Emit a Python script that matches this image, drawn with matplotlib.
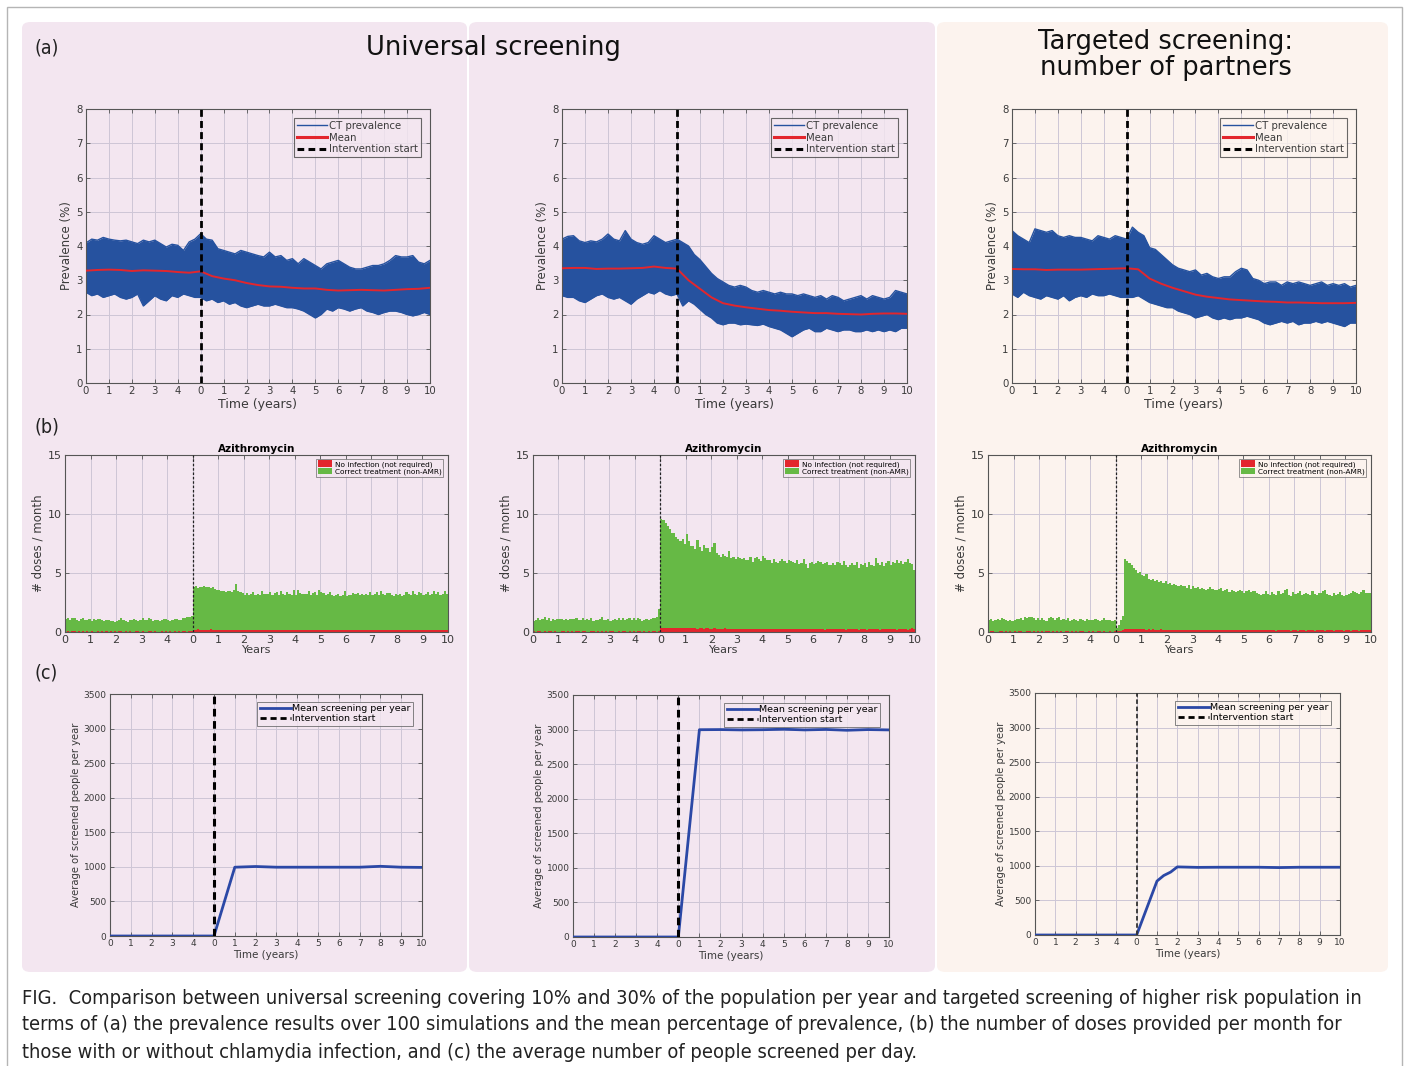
import numpy as np
import matplotlib
matplotlib.use('Agg')
import matplotlib.pyplot as plt
import matplotlib.font_manager as fm
from matplotlib.patches import FancyBboxPatch, Rectangle, Patch
from matplotlib.lines import Line2D

# ---------------- DATA ----------------
# shared x-axis: 5 pre-intervention years (-5..0) + 10 intervention years (0..10)
x_tick_pos = list(range(-5, 11))
x_tick_lab = ['0', '1', '2', '3', '4'] + [str(i) for i in range(0, 11)]

# (a) prevalence band (envelope of 100 simulations), every quarter year
t_env = np.arange(-5, 10.001, 0.25)
t_mean = np.arange(-5, 10.001, 0.5)

u10_upper = [4.09, 4.20, 4.17, 4.25, 4.20, 4.17, 4.15, 4.17, 4.12, 4.07, 4.17, 4.12,
             4.17, 4.07, 3.97, 4.05, 4.02, 3.87, 4.12, 4.20, 4.36, 4.20, 4.17, 3.92,
             3.87, 3.82, 3.77, 3.87, 3.82, 3.77, 3.72, 3.68, 3.82, 3.68, 3.72, 3.58,
             3.63, 3.48, 3.63, 3.53, 3.43, 3.33, 3.48, 3.53, 3.58, 3.48, 3.38, 3.33,
             3.33, 3.38, 3.43, 3.43, 3.48, 3.58, 3.72, 3.68, 3.68, 3.72, 3.53, 3.48, 3.58]
u10_lower = [2.65, 2.55, 2.60, 2.50, 2.55, 2.60, 2.50, 2.45, 2.50, 2.60, 2.25, 2.40,
             2.55, 2.45, 2.40, 2.55, 2.50, 2.60, 2.55, 2.50, 2.50, 2.40, 2.45, 2.35,
             2.40, 2.30, 2.35, 2.25, 2.20, 2.25, 2.30, 2.25, 2.25, 2.30, 2.25, 2.20,
             2.20, 2.16, 2.10, 2.00, 1.90, 2.00, 2.16, 2.10, 2.20, 2.16, 2.10, 2.16,
             2.20, 2.10, 2.06, 2.00, 2.06, 2.10, 2.10, 2.06, 2.00, 1.96, 2.00, 2.06, 2.00]
u10_mean = [3.28, 3.30, 3.31, 3.30, 3.27, 3.29, 3.28, 3.27, 3.24, 3.22, 3.26, 3.12,
            3.05, 3.00, 2.92, 2.86, 2.82, 2.81, 2.78, 2.76, 2.76, 2.72, 2.70, 2.71,
            2.72, 2.71, 2.70, 2.72, 2.74, 2.75, 2.78]

u30_upper = [4.20, 4.28, 4.30, 4.15, 4.10, 4.15, 4.12, 4.20, 4.35, 4.20, 4.15, 4.45,
             4.20, 4.10, 4.05, 4.10, 4.30, 4.20, 4.10, 4.15, 4.20, 4.10, 4.00, 3.75,
             3.60, 3.40, 3.20, 3.05, 2.95, 2.85, 2.80, 2.85, 2.80, 2.70, 2.65, 2.70,
             2.65, 2.60, 2.65, 2.60, 2.60, 2.55, 2.60, 2.55, 2.50, 2.55, 2.45, 2.55,
             2.50, 2.40, 2.45, 2.50, 2.55, 2.45, 2.55, 2.50, 2.45, 2.50, 2.70, 2.65, 2.60]
u30_lower = [2.55, 2.50, 2.50, 2.40, 2.35, 2.45, 2.55, 2.60, 2.50, 2.45, 2.50, 2.40,
             2.30, 2.45, 2.55, 2.65, 2.60, 2.70, 2.60, 2.55, 2.60, 2.25, 2.40, 2.30,
             2.15, 2.00, 1.90, 1.75, 1.70, 1.75, 1.75, 1.70, 1.72, 1.70, 1.68, 1.72,
             1.65, 1.60, 1.55, 1.45, 1.35, 1.45, 1.55, 1.60, 1.50, 1.50, 1.60, 1.55,
             1.50, 1.55, 1.55, 1.50, 1.50, 1.55, 1.50, 1.55, 1.50, 1.55, 1.50, 1.60, 1.60]
u30_mean = [3.35, 3.36, 3.36, 3.33, 3.34, 3.34, 3.35, 3.36, 3.40, 3.36, 3.34, 3.00,
            2.75, 2.50, 2.33, 2.26, 2.21, 2.17, 2.13, 2.11, 2.08, 2.06, 2.04, 2.04,
            2.02, 2.01, 2.00, 2.02, 2.03, 2.03, 2.02]

tg_upper = [4.45, 4.30, 4.20, 4.10, 4.50, 4.45, 4.40, 4.45, 4.30, 4.25, 4.30, 4.25,
            4.25, 4.20, 4.15, 4.30, 4.25, 4.20, 4.30, 4.25, 4.20, 4.55, 4.40, 4.30,
            3.95, 3.90, 3.75, 3.60, 3.45, 3.35, 3.30, 3.25, 3.30, 3.15, 3.20, 3.10,
            3.05, 3.10, 3.10, 3.25, 3.35, 3.30, 3.05, 3.00, 2.90, 2.95, 2.95, 2.85,
            2.95, 2.90, 2.95, 2.90, 2.85, 2.90, 2.95, 2.85, 2.90, 2.85, 2.90, 2.80, 2.85]
tg_lower = [2.60, 2.50, 2.65, 2.55, 2.50, 2.45, 2.55, 2.50, 2.45, 2.55, 2.40, 2.50,
            2.55, 2.50, 2.60, 2.55, 2.55, 2.60, 2.55, 2.50, 2.50, 2.50, 2.55, 2.45,
            2.35, 2.30, 2.25, 2.20, 2.20, 2.10, 2.05, 2.00, 1.90, 1.95, 2.00, 1.90,
            1.85, 1.90, 1.85, 1.90, 1.90, 1.95, 1.90, 1.85, 1.75, 1.70, 1.75, 1.80,
            1.75, 1.80, 1.70, 1.75, 1.75, 1.80, 1.75, 1.80, 1.75, 1.70, 1.65, 1.75, 1.75]
tg_mean = [3.33, 3.32, 3.32, 3.30, 3.31, 3.31, 3.31, 3.32, 3.33, 3.34, 3.35, 3.32,
           3.05, 2.90, 2.78, 2.68, 2.58, 2.52, 2.48, 2.44, 2.42, 2.40, 2.38, 2.37,
           2.35, 2.35, 2.34, 2.33, 2.33, 2.33, 2.34]

# (b) azithromycin doses per month (one row per year, 15 years)
u10_correct = [
    [1.1, 1.1, 1.0, 1.1, 1.1, 1.0, 0.9, 1.1, 1.1, 1.0, 1.0, 1.1],
    [0.9, 1.1, 1.0, 1.0, 1.1, 1.0, 0.9, 1.0, 1.0, 0.9, 0.9, 0.8],
    [0.9, 1.0, 1.1, 1.0, 0.9, 0.8, 1.0, 1.0, 1.1, 1.0, 0.9, 1.0],
    [1.1, 1.0, 1.0, 1.1, 1.0, 0.9, 1.0, 1.0, 0.9, 1.0, 1.1, 1.0],
    [1.0, 0.9, 1.0, 1.0, 1.1, 1.0, 1.0, 1.1, 1.1, 1.2, 1.2, 1.3],
    [3.6, 3.7, 3.5, 3.6, 3.6, 3.7, 3.6, 3.6, 3.5, 3.6, 3.5, 3.4],
    [3.4, 3.3, 3.3, 3.2, 3.3, 3.3, 3.2, 3.4, 3.9, 3.3, 3.2, 3.1],
    [3.0, 3.1, 3.0, 3.1, 3.2, 3.0, 3.1, 3.0, 3.3, 3.1, 3.0, 3.1],
    [3.2, 3.0, 3.1, 3.2, 3.0, 3.3, 3.1, 3.0, 3.2, 3.1, 3.0, 3.4],
    [3.0, 3.4, 3.2, 3.1, 3.0, 3.1, 3.3, 3.0, 3.1, 3.2, 3.0, 3.4],
    [3.2, 3.1, 3.0, 3.1, 3.2, 3.0, 2.9, 3.0, 3.1, 2.9, 3.0, 3.3],
    [2.9, 3.0, 3.0, 3.1, 3.1, 3.2, 3.0, 3.1, 3.0, 3.1, 3.0, 3.2],
    [3.0, 3.1, 3.2, 3.0, 3.3, 3.1, 3.0, 3.2, 3.1, 3.0, 2.9, 3.1],
    [3.0, 3.1, 2.9, 3.0, 3.2, 3.1, 3.0, 3.3, 3.1, 3.0, 3.2, 3.1],
    [3.0, 3.1, 3.2, 3.0, 3.1, 3.3, 3.1, 3.2, 3.0, 3.1, 3.3, 3.1]]
u10_noinf = [
    [0.04, 0.05, 0.03, 0.06, 0.05, 0.04, 0.05, 0.03, 0.06, 0.04, 0.05, 0.04],
    [0.05, 0.03, 0.04, 0.06, 0.04, 0.05, 0.03, 0.05, 0.04, 0.06, 0.04, 0.05],
    [0.04, 0.05, 0.06, 0.03, 0.05, 0.04, 0.05, 0.04, 0.03, 0.05, 0.06, 0.04],
    [0.05, 0.04, 0.03, 0.05, 0.06, 0.04, 0.05, 0.03, 0.04, 0.05, 0.04, 0.06],
    [0.04, 0.05, 0.04, 0.06, 0.03, 0.05, 0.04, 0.05, 0.06, 0.04, 0.05, 0.06],
    [0.20, 0.18, 0.22, 0.20, 0.19, 0.21, 0.18, 0.20, 0.22, 0.19, 0.18, 0.20],
    [0.17, 0.19, 0.16, 0.18, 0.20, 0.17, 0.15, 0.18, 0.19, 0.16, 0.17, 0.18],
    [0.15, 0.17, 0.16, 0.14, 0.18, 0.16, 0.15, 0.17, 0.14, 0.16, 0.18, 0.15],
    [0.16, 0.14, 0.17, 0.15, 0.16, 0.18, 0.14, 0.15, 0.17, 0.16, 0.15, 0.14],
    [0.15, 0.17, 0.14, 0.16, 0.18, 0.15, 0.16, 0.14, 0.17, 0.15, 0.16, 0.14],
    [0.16, 0.18, 0.15, 0.14, 0.16, 0.17, 0.15, 0.16, 0.14, 0.15, 0.17, 0.16],
    [0.15, 0.14, 0.16, 0.17, 0.15, 0.14, 0.16, 0.15, 0.17, 0.14, 0.15, 0.16],
    [0.14, 0.16, 0.15, 0.17, 0.14, 0.15, 0.16, 0.14, 0.18, 0.15, 0.14, 0.16],
    [0.15, 0.16, 0.14, 0.15, 0.17, 0.14, 0.16, 0.15, 0.14, 0.16, 0.15, 0.17],
    [0.14, 0.15, 0.17, 0.14, 0.16, 0.15, 0.14, 0.16, 0.15, 0.14, 0.17, 0.15]]

u30_correct = [
    [0.9, 1.0, 1.1, 1.0, 1.1, 1.2, 1.0, 1.1, 0.9, 1.1, 1.0, 1.1],
    [1.1, 1.0, 1.0, 1.1, 1.0, 1.1, 1.0, 1.1, 1.1, 1.0, 1.0, 1.1],
    [1.0, 1.1, 1.0, 1.1, 0.9, 1.0, 1.0, 1.1, 1.2, 1.0, 1.0, 1.1],
    [0.9, 1.0, 1.1, 1.0, 1.1, 1.0, 1.1, 1.0, 1.1, 1.1, 1.0, 1.1],
    [1.0, 1.1, 1.0, 0.9, 1.0, 1.1, 1.0, 1.1, 1.1, 1.1, 1.2, 1.9],
    [9.2, 9.1, 8.9, 8.6, 8.4, 8.0, 8.1, 7.7, 7.5, 7.4, 7.6, 7.1],
    [8.0, 7.4, 7.0, 6.9, 6.7, 7.5, 6.9, 6.6, 7.1, 6.8, 6.8, 6.5],
    [6.9, 7.2, 6.4, 6.2, 6.1, 6.3, 6.1, 6.1, 6.6, 6.0, 6.1, 5.9],
    [6.1, 6.0, 5.9, 6.0, 5.9, 5.8, 6.1, 5.7, 6.0, 6.1, 5.9, 5.8],
    [6.2, 6.0, 5.9, 5.8, 5.6, 5.9, 5.7, 5.6, 5.8, 5.9, 5.8, 5.6],
    [5.9, 5.8, 5.7, 5.6, 5.8, 5.5, 5.6, 5.9, 5.5, 5.2, 5.6, 5.7],
    [5.5, 5.6, 5.8, 5.7, 5.5, 5.6, 5.7, 5.5, 5.4, 5.6, 5.5, 5.7],
    [5.6, 5.4, 5.8, 5.5, 5.3, 5.5, 5.6, 5.4, 5.7, 5.2, 5.5, 5.4],
    [5.6, 5.3, 5.7, 5.5, 5.4, 6.0, 5.6, 5.5, 5.7, 5.4, 5.6, 5.8],
    [5.5, 5.7, 5.6, 5.9, 5.6, 5.8, 5.5, 5.7, 6.0, 5.6, 5.5, 5.0]]
u30_noinf = [
    [0.05, 0.04, 0.06, 0.05, 0.03, 0.05, 0.04, 0.06, 0.05, 0.04, 0.05, 0.03],
    [0.04, 0.06, 0.05, 0.04, 0.05, 0.03, 0.06, 0.04, 0.05, 0.05, 0.04, 0.06],
    [0.05, 0.04, 0.03, 0.05, 0.06, 0.04, 0.05, 0.04, 0.06, 0.03, 0.05, 0.04],
    [0.06, 0.05, 0.04, 0.03, 0.05, 0.04, 0.06, 0.05, 0.04, 0.05, 0.03, 0.05],
    [0.04, 0.05, 0.06, 0.04, 0.05, 0.03, 0.05, 0.04, 0.06, 0.05, 0.04, 0.08],
    [0.38, 0.36, 0.34, 0.35, 0.33, 0.36, 0.32, 0.34, 0.35, 0.33, 0.31, 0.34],
    [0.32, 0.30, 0.33, 0.35, 0.31, 0.29, 0.32, 0.30, 0.28, 0.31, 0.30, 0.29],
    [0.28, 0.30, 0.27, 0.29, 0.26, 0.28, 0.30, 0.27, 0.26, 0.28, 0.25, 0.27],
    [0.26, 0.28, 0.25, 0.27, 0.24, 0.26, 0.25, 0.27, 0.24, 0.26, 0.25, 0.24],
    [0.25, 0.27, 0.24, 0.26, 0.28, 0.25, 0.24, 0.26, 0.23, 0.25, 0.24, 0.26],
    [0.24, 0.22, 0.25, 0.23, 0.26, 0.24, 0.22, 0.25, 0.23, 0.24, 0.22, 0.25],
    [0.23, 0.25, 0.22, 0.24, 0.23, 0.21, 0.24, 0.22, 0.25, 0.23, 0.22, 0.24],
    [0.22, 0.24, 0.23, 0.21, 0.25, 0.22, 0.23, 0.24, 0.22, 0.21, 0.23, 0.24],
    [0.23, 0.21, 0.24, 0.22, 0.23, 0.25, 0.22, 0.21, 0.24, 0.23, 0.22, 0.24],
    [0.22, 0.24, 0.23, 0.21, 0.22, 0.24, 0.23, 0.22, 0.21, 0.25, 0.30, 0.23]]

tg_correct = [
    [1.0, 1.0, 0.9, 1.0, 1.1, 1.0, 1.1, 1.1, 1.0, 0.9, 1.0, 0.9],
    [1.0, 1.1, 1.0, 1.1, 1.0, 1.2, 1.1, 1.2, 1.2, 1.1, 1.0, 1.1],
    [1.0, 1.1, 1.0, 0.9, 1.1, 1.2, 1.1, 1.0, 1.1, 1.2, 1.0, 1.1],
    [1.0, 1.1, 0.9, 1.0, 1.1, 1.0, 0.9, 1.0, 1.0, 0.9, 1.1, 1.0],
    [1.0, 1.0, 1.1, 1.0, 0.9, 1.0, 1.1, 1.0, 1.0, 1.0, 0.9, 1.0],
    [0.3, 0.5, 0.9, 1.2, 5.9, 5.8, 5.6, 5.4, 5.2, 5.0, 4.8, 4.9],
    [4.6, 4.5, 4.7, 4.3, 4.2, 4.3, 4.1, 4.2, 4.0, 4.1, 4.0, 4.1],
    [3.9, 4.0, 3.8, 3.9, 3.8, 3.7, 3.8, 3.7, 3.7, 3.6, 3.8, 3.5],
    [3.7, 3.6, 3.6, 3.5, 3.6, 3.5, 3.4, 3.5, 3.6, 3.5, 3.4, 3.4],
    [3.5, 3.6, 3.3, 3.4, 3.5, 3.3, 3.4, 3.3, 3.2, 3.3, 3.4, 3.3],
    [3.2, 3.3, 3.4, 3.2, 3.3, 3.3, 3.2, 3.1, 3.0, 3.1, 3.3, 3.1],
    [3.0, 3.2, 3.1, 3.0, 3.3, 3.1, 3.2, 3.4, 3.5, 3.0, 2.9, 3.2],
    [3.1, 3.2, 3.3, 3.0, 3.1, 3.2, 3.1, 3.0, 3.3, 3.1, 3.0, 3.2],
    [3.2, 3.3, 3.4, 3.1, 3.0, 2.9, 3.2, 3.0, 3.1, 3.2, 3.0, 2.9],
    [3.0, 3.1, 3.2, 3.3, 3.3, 3.2, 3.1, 3.3, 3.4, 3.2, 3.1, 3.2]]
tg_noinf = [
    [0.04, 0.06, 0.05, 0.04, 0.03, 0.05, 0.06, 0.04, 0.05, 0.03, 0.05, 0.04],
    [0.05, 0.04, 0.06, 0.05, 0.04, 0.03, 0.05, 0.06, 0.04, 0.05, 0.04, 0.05],
    [0.03, 0.05, 0.04, 0.06, 0.05, 0.04, 0.05, 0.03, 0.06, 0.04, 0.05, 0.04],
    [0.05, 0.06, 0.04, 0.05, 0.03, 0.05, 0.04, 0.06, 0.05, 0.04, 0.03, 0.05],
    [0.04, 0.05, 0.03, 0.05, 0.06, 0.04, 0.05, 0.04, 0.03, 0.05, 0.04, 0.05],
    [0.05, 0.08, 0.10, 0.15, 0.26, 0.24, 0.27, 0.25, 0.23, 0.26, 0.24, 0.22],
    [0.23, 0.25, 0.21, 0.22, 0.20, 0.23, 0.21, 0.19, 0.20, 0.22, 0.19, 0.18],
    [0.19, 0.17, 0.20, 0.18, 0.16, 0.19, 0.17, 0.18, 0.16, 0.17, 0.19, 0.16],
    [0.17, 0.15, 0.18, 0.16, 0.17, 0.15, 0.14, 0.16, 0.18, 0.15, 0.14, 0.16],
    [0.15, 0.17, 0.14, 0.16, 0.15, 0.13, 0.16, 0.14, 0.15, 0.17, 0.14, 0.15],
    [0.14, 0.16, 0.13, 0.15, 0.14, 0.16, 0.13, 0.15, 0.14, 0.13, 0.15, 0.14],
    [0.13, 0.15, 0.14, 0.12, 0.15, 0.13, 0.14, 0.16, 0.13, 0.14, 0.12, 0.15],
    [0.14, 0.12, 0.15, 0.13, 0.14, 0.12, 0.13, 0.15, 0.14, 0.12, 0.13, 0.14],
    [0.13, 0.15, 0.12, 0.14, 0.13, 0.15, 0.12, 0.13, 0.14, 0.16, 0.13, 0.12],
    [0.14, 0.13, 0.12, 0.15, 0.13, 0.14, 0.12, 0.13, 0.15, 0.14, 0.20, 0.13]]

# (c) mean number screened per year
u10_scr_t = [-5, -4, -3, -2, -1, 0, 1, 2, 3, 4, 5, 6, 7, 8, 9, 10]
u10_scr = [0, 0, 0, 0, 0, 0, 995, 1005, 995, 995, 995, 995, 995, 1008, 995, 992]
u30_scr_t = [-5, -4, -3, -2, -1, 0, 1, 2, 3, 4, 5, 6, 7, 8, 9, 10]
u30_scr = [0, 0, 0, 0, 0, 0, 2998, 3000, 2995, 2998, 3005, 2995, 3002, 2990, 3000, 2995]
tg_scr_t = [-5, -4, -3, -2, -1, 0, 1, 1.33, 1.67, 2, 3, 4, 5, 6, 7, 8, 9, 10]
tg_scr = [0, 0, 0, 0, 0, 0, 780, 860, 910, 985, 978, 980, 980, 980, 975, 980, 980, 980]

# ---------------- STYLE ----------------
W, H = 1407, 1066
PINK = '#f3e6f0'
PEACH = '#fcf3ee'
BLUE = '#26529f'
RED = '#e3262d'
GREEN = '#66b945'
LINEBLUE = '#2b48a6'
GRID = '#cdc6d6'
SPINE = '#555555'
TXT = '#3a3a3a'

fig = plt.figure(figsize=(W / 100, H / 100), dpi=100)
fig.patch.set_facecolor('white')


def add_ax(x0, x1, y0, y1):
    ax = fig.add_axes([x0 / W, 1 - y1 / H, (x1 - x0) / W, (y1 - y0) / H])
    ax.set_facecolor('none')
    return ax


def bg(x0, x1, y0, y1, color):
    p = FancyBboxPatch((x0 / W, 1 - y1 / H), (x1 - x0) / W, (y1 - y0) / H,
                       boxstyle='round,pad=0,rounding_size=0.006',
                       transform=fig.transFigure, facecolor=color, edgecolor='none',
                       zorder=-10)
    fig.add_artist(p)


# outer frame
fig.add_artist(Rectangle((7 / W, -0.01), (1402 - 7) / W, 1 - 7 / H + 0.01,
                         transform=fig.transFigure, facecolor='none',
                         edgecolor='#b5b5b5', lw=1.0, zorder=-11))
bg(22, 467, 22, 972, PINK)
bg(469, 935, 22, 972, PINK)
bg(937, 1388, 22, 972, PEACH)


def style(ax, ylim, yticks, fs):
    ax.set_xlim(-5, 10)
    ax.set_ylim(*ylim)
    ax.set_xticks(x_tick_pos)
    ax.set_xticklabels(x_tick_lab)
    ax.set_yticks(yticks)
    ax.tick_params(direction='in', length=3, width=0.6, top=True, right=True,
                   labelsize=fs, colors=SPINE, labelcolor=TXT, pad=2.5)
    for s in ax.spines.values():
        s.set_color(SPINE)
        s.set_linewidth(0.8)
    ax.grid(True, color=GRID, lw=0.7)
    ax.set_axisbelow(True)


# ---- row (a) ----
a_boxes = [(86, 430), (562, 907), (1012, 1356)]
a_data = [(u10_upper, u10_lower, u10_mean), (u30_upper, u30_lower, u30_mean),
          (tg_upper, tg_lower, tg_mean)]
for (x0, x1), (up, lo, mn) in zip(a_boxes, a_data):
    ax = add_ax(x0, x1, 109, 383)
    style(ax, (0, 8), range(0, 9), 7.3)
    ax.fill_between(t_env, lo, up, color=BLUE, lw=0, zorder=2)
    ax.plot(t_env, up, color=BLUE, lw=1.0, zorder=2)
    ax.plot(t_env, lo, color=BLUE, lw=1.0, zorder=2)
    ax.plot(t_mean, mn, color=RED, lw=1.4, zorder=3)
    ax.axvline(0, color='black', lw=2.0, ls=(0, (2.5, 1.5)), zorder=4)
    ax.set_xlabel('Time (years)', fontsize=9, color=TXT, labelpad=1)
    ax.set_ylabel('Prevalence (%)', fontsize=8.5, color=TXT, labelpad=2)
    handles = [Line2D([], [], color=BLUE, lw=1.0),
               Line2D([], [], color=RED, lw=2.2),
               Line2D([], [], color='black', lw=2.2, ls=(0, (2.2, 1.4)))]
    leg = ax.legend(handles, ['CT prevalence', 'Mean', 'Intervention start'],
                    loc='upper right', bbox_to_anchor=(1 - 9 / (x1 - x0), 1 - 9 / 274),
                    borderaxespad=0, fontsize=7.3, handlelength=3.0, handletextpad=0.15,
                    labelspacing=0.15, borderpad=0.3, frameon=True, fancybox=False)
    leg.get_frame().set_edgecolor('#444444')
    leg.get_frame().set_linewidth(0.8)
    leg.get_frame().set_facecolor(PEACH if x0 > 900 else PINK)
    for t in leg.get_texts():
        t.set_color(TXT)

# ---- row (b) ----
b_boxes = [(65, 448), (533, 915), (988, 1371)]
b_data = [(u10_correct, u10_noinf), (u30_correct, u30_noinf), (tg_correct, tg_noinf)]
months = -5 + np.arange(180) / 12.0
for (x0, x1), (cor, noi) in zip(b_boxes, b_data):
    ax = add_ax(x0, x1, 455, 632)
    style(ax, (0, 15), [0, 5, 10, 15], 8)
    red = np.concatenate([np.asarray(r, float) for r in noi])
    grn = np.concatenate([np.asarray(r, float) for r in cor])
    ax.bar(months, red, width=1 / 12, align='edge', color=RED, lw=0, zorder=2)
    ax.bar(months, grn, width=1 / 12, align='edge', bottom=red, color=GREEN, lw=0, zorder=2)
    ax.axvline(0, color='#222222', lw=0.9, ls=(0, (2.0, 1.5)), zorder=4)
    ax.set_title('Azithromycin', fontsize=7.5, fontweight='bold', pad=2)
    ax.set_xlabel('Years', fontsize=8, color=TXT, labelpad=0)
    ax.set_ylabel('# doses / month', fontsize=8.5, color=TXT, labelpad=2)
    handles = [Patch(facecolor=RED, edgecolor='none'), Patch(facecolor=GREEN, edgecolor='none')]
    leg = ax.legend(handles, ['No infection (not required)', 'Correct treatment (non-AMR)'],
                    loc='upper right', bbox_to_anchor=(1 - 5 / (x1 - x0), 1 - 4 / 177),
                    borderaxespad=0, fontsize=5.3, handlelength=2.0, handleheight=0.9,
                    handletextpad=0.3, labelspacing=0.1, borderpad=0.2, frameon=True,
                    fancybox=False)
    leg.get_frame().set_edgecolor('#666666')
    leg.get_frame().set_linewidth(0.6)
    leg.get_frame().set_facecolor(PEACH if x0 > 900 else PINK)

# ---- row (c) ----
c_boxes = [(110, 422, 694, 936), (573, 889, 695, 937), (1035, 1340, 693, 935)]
c_data = [(u10_scr_t, u10_scr), (u30_scr_t, u30_scr), (tg_scr_t, tg_scr)]
for i, ((x0, x1, y0, y1), (tt, vv)) in enumerate(zip(c_boxes, c_data)):
    ax = add_ax(x0, x1, y0, y1)
    style(ax, (0, 3500), range(0, 3501, 500), 6.5)
    ax.plot(tt, vv, color=LINEBLUE, lw=2.0, zorder=3)
    vlw = 1.3 if i == 2 else 2.2
    vcol = '#333333' if i == 2 else 'black'
    ax.axvline(0, color=vcol, lw=vlw, ls=(0, (2.5, 1.5)), zorder=4)
    ax.set_xlabel('Time (years)', fontsize=7.5, color=TXT, labelpad=1)
    ax.set_ylabel('Average of screened people per year', fontsize=7.2, color=TXT, labelpad=2)
    handles = [Line2D([], [], color=LINEBLUE, lw=2.0),
               Line2D([], [], color='black', lw=2.0, ls=(0, (2.2, 1.4)))]
    leg = ax.legend(handles, ['Mean screening per year', 'Intervention start'],
                    loc='upper right', bbox_to_anchor=(1 - 9 / (x1 - x0), 1 - 8 / (y1 - y0)),
                    borderaxespad=0, fontsize=6.8, handlelength=3.3, handletextpad=0.15,
                    labelspacing=0.1, borderpad=0.25, frameon=True, fancybox=False)
    leg.get_frame().set_edgecolor('#666666')
    leg.get_frame().set_linewidth(0.7)
    leg.get_frame().set_facecolor(PEACH if x0 > 900 else PINK)

# ---- headings ----
fig.text(493 / W, 1 - 48 / H, 'Universal screening', fontsize=18.5, ha='center', va='center',
         color='#111111')
fig.text(1166 / W, 1 - 42 / H, 'Targeted screening:', fontsize=18.5, ha='center', va='center',
         color='#111111')
fig.text(1166 / W, 1 - 68 / H, 'number of partners', fontsize=18.5, ha='center', va='center',
         color='#111111')

# caption font: a narrow sans if one is installed
names = {f.name for f in fm.fontManager.ttflist}
if 'Liberation Sans Narrow' in names:
    cap_kw = dict(family='Liberation Sans Narrow')
else:
    cap_kw = dict(family='DejaVu Sans', stretch='condensed')

for lab, yy in [('(a)', 48), ('(b)', 427), ('(c)', 673)]:
    fig.text(35 / W, 1 - yy / H, lab, fontsize=14, ha='left', va='center',
             color='#222222', **cap_kw)

caption = ['FIG.  Comparison between universal screening covering 10% and 30% of the population per year and targeted screening of higher risk population in',
           'terms of (a) the prevalence results over 100 simulations and the mean percentage of prevalence, (b) the number of doses provided per month for',
           'those with or without chlamydia infection, and (c) the average number of people screened per day.']
cap_texts = []
for line, yy in zip(caption, [998, 1025, 1052]):
    cap_texts.append(fig.text(22 / W, 1 - yy / H, line, fontsize=13.5, ha='left', va='center',
                              color='#222222', **cap_kw))
# fit the first caption line to the width it takes in the reference
fig.canvas.draw()
r = fig.canvas.get_renderer()
w0 = cap_texts[0].get_window_extent(r).width
scale = min(1.15, (1358 - 22) / w0)
for t in cap_texts:
    t.set_fontsize(13.5 * scale)

fig.savefig('out.png', dpi=100, facecolor='white')
